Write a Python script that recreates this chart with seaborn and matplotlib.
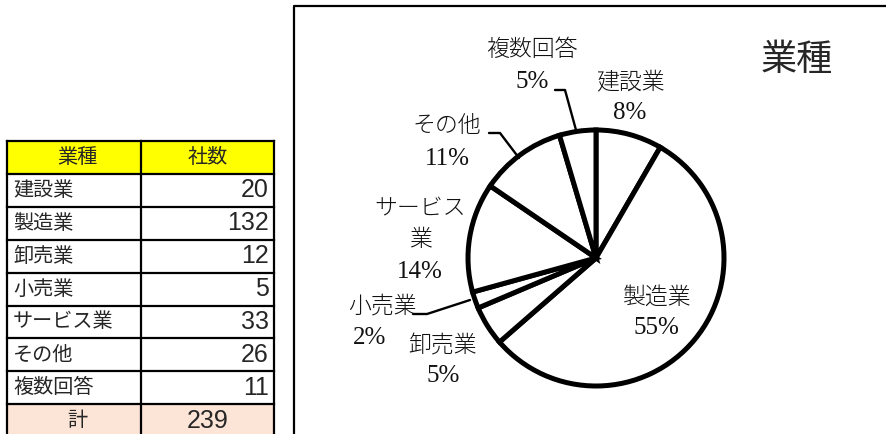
import numpy as np
import matplotlib
matplotlib.use("Agg")
import matplotlib.pyplot as plt
import seaborn as sns

sns.set_theme(style="white")
plt.rcParams["font.family"] = ["Noto Sans CJK JP", "DejaVu Sans"]

# ---- data ----
industries = ["建設業", "製造業", "卸売業", "小売業", "サービス業", "その他", "複数回答"]
counts = [20, 132, 12, 5, 33, 26, 11]
total_label = "計"
header = ["業種", "社数"]
chart_title = "業種"

W, H = 887, 434
fig = plt.figure(figsize=(W / 100, H / 100), dpi=100)
ax = fig.add_axes([0, 0, 1, 1])


def Y(y):
    return H - y


# ---- table ----
col_x = [7, 141, 274]
row_h = 32.9
top = 141
n_rows = len(industries) + 2
for r in range(n_rows):
    y0 = top + r * row_h
    if r == 0:
        ax.add_patch(plt.Rectangle((col_x[0], Y(y0 + row_h)), col_x[2] - col_x[0], row_h,
                                   facecolor="#FFFF00", edgecolor="none", zorder=1))
    elif r == n_rows - 1:
        ax.add_patch(plt.Rectangle((col_x[0], Y(y0 + row_h)), col_x[2] - col_x[0], row_h,
                                   facecolor="#FCE4D6", edgecolor="none", zorder=1))
for r in range(n_rows + 1):
    y0 = top + r * row_h
    ax.plot([col_x[0], col_x[2]], [Y(y0), Y(y0)], color="black", lw=1.6, zorder=3,
            solid_capstyle="projecting")
for x in col_x:
    ax.plot([x, x], [Y(top), Y(top + n_rows * row_h)], color="black", lw=1.6, zorder=3,
            solid_capstyle="projecting")

cjk_size = 14.5
num_size = 18
num_family = ["Liberation Sans", "Noto Sans CJK JP"]
yc = top + row_h / 2
ax.text(77, Y(yc), header[0], ha="center", va="center", fontsize=cjk_size, zorder=4)
ax.text(208, Y(yc), header[1], ha="center", va="center", fontsize=cjk_size, zorder=4)
for i, (name, c) in enumerate(zip(industries, counts)):
    yc = top + (i + 1.5) * row_h
    ax.text(13, Y(yc), name, ha="left", va="center", fontsize=cjk_size, zorder=4)
    ax.text(269, Y(yc), f"{c}", ha="right", va="center", fontsize=num_size,
            family=num_family, zorder=4)
yc = top + (n_rows - 0.5) * row_h
ax.text(77, Y(yc), total_label, ha="center", va="center", fontsize=cjk_size, zorder=4)
ax.text(208, Y(yc), f"{sum(counts)}", ha="center", va="center", fontsize=num_size,
        family=num_family, zorder=4)

# ---- chart area frame ----
ax.plot([294, 294, W + 5], [Y(H + 5), Y(6), Y(6)], color="black", lw=1.6, zorder=3)

# ---- pie ----
cx, cy, R = 596, 258, 128
ax.pie(counts, startangle=90, counterclock=False, center=(cx, Y(cy)), radius=R,
       colors=["white"] * len(counts),
       wedgeprops=dict(edgecolor="black", linewidth=3.6, joinstyle="miter"),
       frame=True)

ax.text(797, Y(60), chart_title, ha="center", va="center", fontsize=26)

total = sum(counts)
pcts = [f"{round(100 * c / total)}%" for c in counts]
serif = ["Liberation Serif", "DejaVu Serif"]
lab_size = 16.5

# label line positions (name lines, percent line) per slice
label_pos = {
    "建設業": ([(630, 82)], (630, 113)),
    "製造業": ([(656, 297)], (656, 328)),
    "卸売業": ([(443, 346)], (443, 376)),
    "小売業": ([(382, 306)], (370, 338)),
    "サービス業": ([(420, 208), (420, 240)], (420, 272)),
    "その他": ([(447, 126)], (447, 159)),
    "複数回答": ([(532, 50)], (532, 82)),
}
name_lines = {"サービス業": ["サービス", "業"]}
for name, pct in zip(industries, pcts):
    pos_names, pos_pct = label_pos[name]
    lines = name_lines.get(name, [name])
    for txt, (x, y) in zip(lines, pos_names):
        ax.text(x, Y(y), txt, ha="center", va="center", fontsize=lab_size,
                fontweight="light", color="#111111", zorder=5)
    ax.text(pos_pct[0], Y(pos_pct[1]), pct, ha="center", va="center", fontsize=18,
            family=serif, color="#111111", zorder=5)

# leader lines
leaders = [
    [(555, 90), (565, 90), (576, 130)],
    [(489, 133), (500, 133), (519, 158)],
    [(413, 314), (427, 314), (470, 300)],
]
for pts in leaders:
    xs = [p[0] for p in pts]
    ys = [Y(p[1]) for p in pts]
    ax.plot(xs, ys, color="black", lw=1.7, zorder=5)

ax.set_xlim(0, W)
ax.set_ylim(0, H)
ax.set_aspect("auto")
ax.axis("off")

fig.savefig("out.png", dpi=100, facecolor="white")
